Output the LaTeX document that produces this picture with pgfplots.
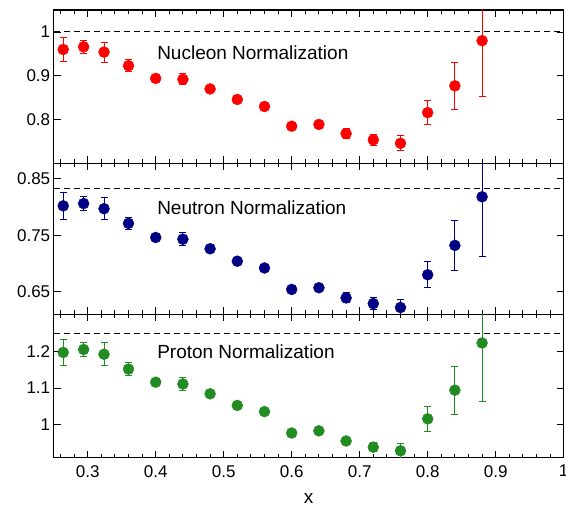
\documentclass[border=0pt]{standalone}
\usepackage{pgfplots}
\pgfplotsset{compat=1.18}
\usepackage{pgfplotstable}
\usepackage{fontspec}
\setmainfont{Liberation Sans}

\definecolor{nred}{RGB}{255,0,0}
\definecolor{nblue}{RGB}{0,0,130}
\definecolor{ngreen}{RGB}{34,139,34}

% x, value, error
\pgfplotstableread{
x     y     e
0.264 0.960 0.028
0.294 0.966 0.015
0.324 0.954 0.023
0.360 0.923 0.013
0.400 0.894 0.006
0.440 0.892 0.013
0.480 0.870 0.008
0.520 0.846 0.006
0.560 0.830 0.006
0.600 0.785 0.005
0.640 0.789 0.006
0.680 0.768 0.012
0.720 0.754 0.012
0.760 0.746 0.017
0.800 0.816 0.027
0.840 0.877 0.053
0.880 0.980 0.127
}\nucleon

\pgfplotstableread{
x     y     e
0.264 0.802 0.024
0.294 0.806 0.012
0.324 0.797 0.020
0.360 0.771 0.011
0.400 0.746 0.005
0.440 0.743 0.012
0.480 0.726 0.007
0.520 0.704 0.006
0.560 0.692 0.006
0.600 0.654 0.005
0.640 0.657 0.006
0.680 0.639 0.009
0.720 0.629 0.010
0.760 0.622 0.014
0.800 0.680 0.023
0.840 0.732 0.044
0.880 0.818 0.105
}\neutron

\pgfplotstableread{
x     y     e
0.264 1.198 0.036
0.294 1.206 0.018
0.324 1.193 0.031
0.360 1.152 0.017
0.400 1.116 0.007
0.440 1.111 0.018
0.480 1.084 0.010
0.520 1.052 0.008
0.560 1.035 0.008
0.600 0.976 0.006
0.640 0.982 0.008
0.680 0.954 0.011
0.720 0.937 0.013
0.760 0.927 0.020
0.800 1.015 0.034
0.840 1.094 0.066
0.880 1.224 0.160
}\proton

\pgfplotsset{
  panel/.style={
    width=510pt, scale only axis,
    xmin=0.25, xmax=1.0,
    axis line style={black, line width=1.2pt},
    tick align=inside,
    xtick={0.3,0.4,0.5,0.6,0.7,0.8,0.9,1.0},
    minor xtick={0.26,0.28,0.32,0.34,0.36,0.38,0.42,0.44,0.46,0.48,0.52,0.54,0.56,0.58,0.62,0.64,0.66,0.68,0.72,0.74,0.76,0.78,0.82,0.84,0.86,0.88,0.92,0.94,0.96,0.98},
    major tick length=7pt, minor tick length=4pt,
    tick style={black, line width=0.8pt},
    ticklabel style={font=\fontsize{17}{17}\selectfont},
    /pgf/number format/assume math mode=true,
    xticklabels={},
    anchor=south west,
  },
  pts/.style={
    only marks, mark=*, mark size=5.5pt, color=#1,
    error bars/.cd, y dir=both, y explicit,
    error bar style={line width=1pt, #1},
    error mark options={rotate=90, mark size=3.5pt, line width=1pt, #1},
  },
  ref/.style={black, line width=1pt, dash pattern=on 6pt off 4pt},
}
\tikzset{lbl/.style={anchor=west, inner sep=0pt, font=\fontsize{19}{19}\selectfont}}

\begin{document}
\begin{tikzpicture}
\useasboundingbox (-53.7pt,-50.3pt) rectangle (512.3pt,457.7pt);

% top panel
\begin{axis}[panel, at={(0pt,294.2pt)}, height=153.5pt,
    ymin=0.7, ymax=1.05,
    ytick={0.8,0.9,1}, yticklabels={0.8,0.9,1}]
\addplot[ref] coordinates {(0.25,1) (1.0,1)};
\addplot[pts=nred] table[x=x, y=y, y error=e] {\nucleon};
\node[lbl] at (axis cs:0.402,0.953) {Nucleon Normalization};
\end{axis}

% middle panel
\begin{axis}[panel, at={(0pt,143.4pt)}, height=150.8pt,
    ymin=0.61, ymax=0.877,
    ytick={0.65,0.75,0.85}, yticklabels={0.65,0.75,0.85}]
\addplot[ref] coordinates {(0.25,0.833) (1.0,0.833)};
\addplot[pts=nblue] table[x=x, y=y, y error=e] {\neutron};
\node[lbl] at (axis cs:0.402,0.798) {Neutron Normalization};
\end{axis}

% bottom panel
\begin{axis}[panel, at={(0pt,0pt)}, height=143.4pt,
    ymin=0.908, ymax=1.303,
    ytick={1,1.1,1.2}, yticklabels={1,1.1,1.2},
    xticklabels={0.3,0.4,0.5,0.6,0.7,0.8,0.9,1},
    xticklabel style={yshift=-4pt},
    xlabel={x},
    xlabel style={font=\fontsize{19}{19}\selectfont, yshift=-9pt}]
\addplot[ref] coordinates {(0.25,1.25) (1.0,1.25)};
\addplot[pts=ngreen] table[x=x, y=y, y error=e] {\proton};
\node[lbl] at (axis cs:0.402,1.20) {Proton Normalization};
\end{axis}
\end{tikzpicture}
\end{document}
